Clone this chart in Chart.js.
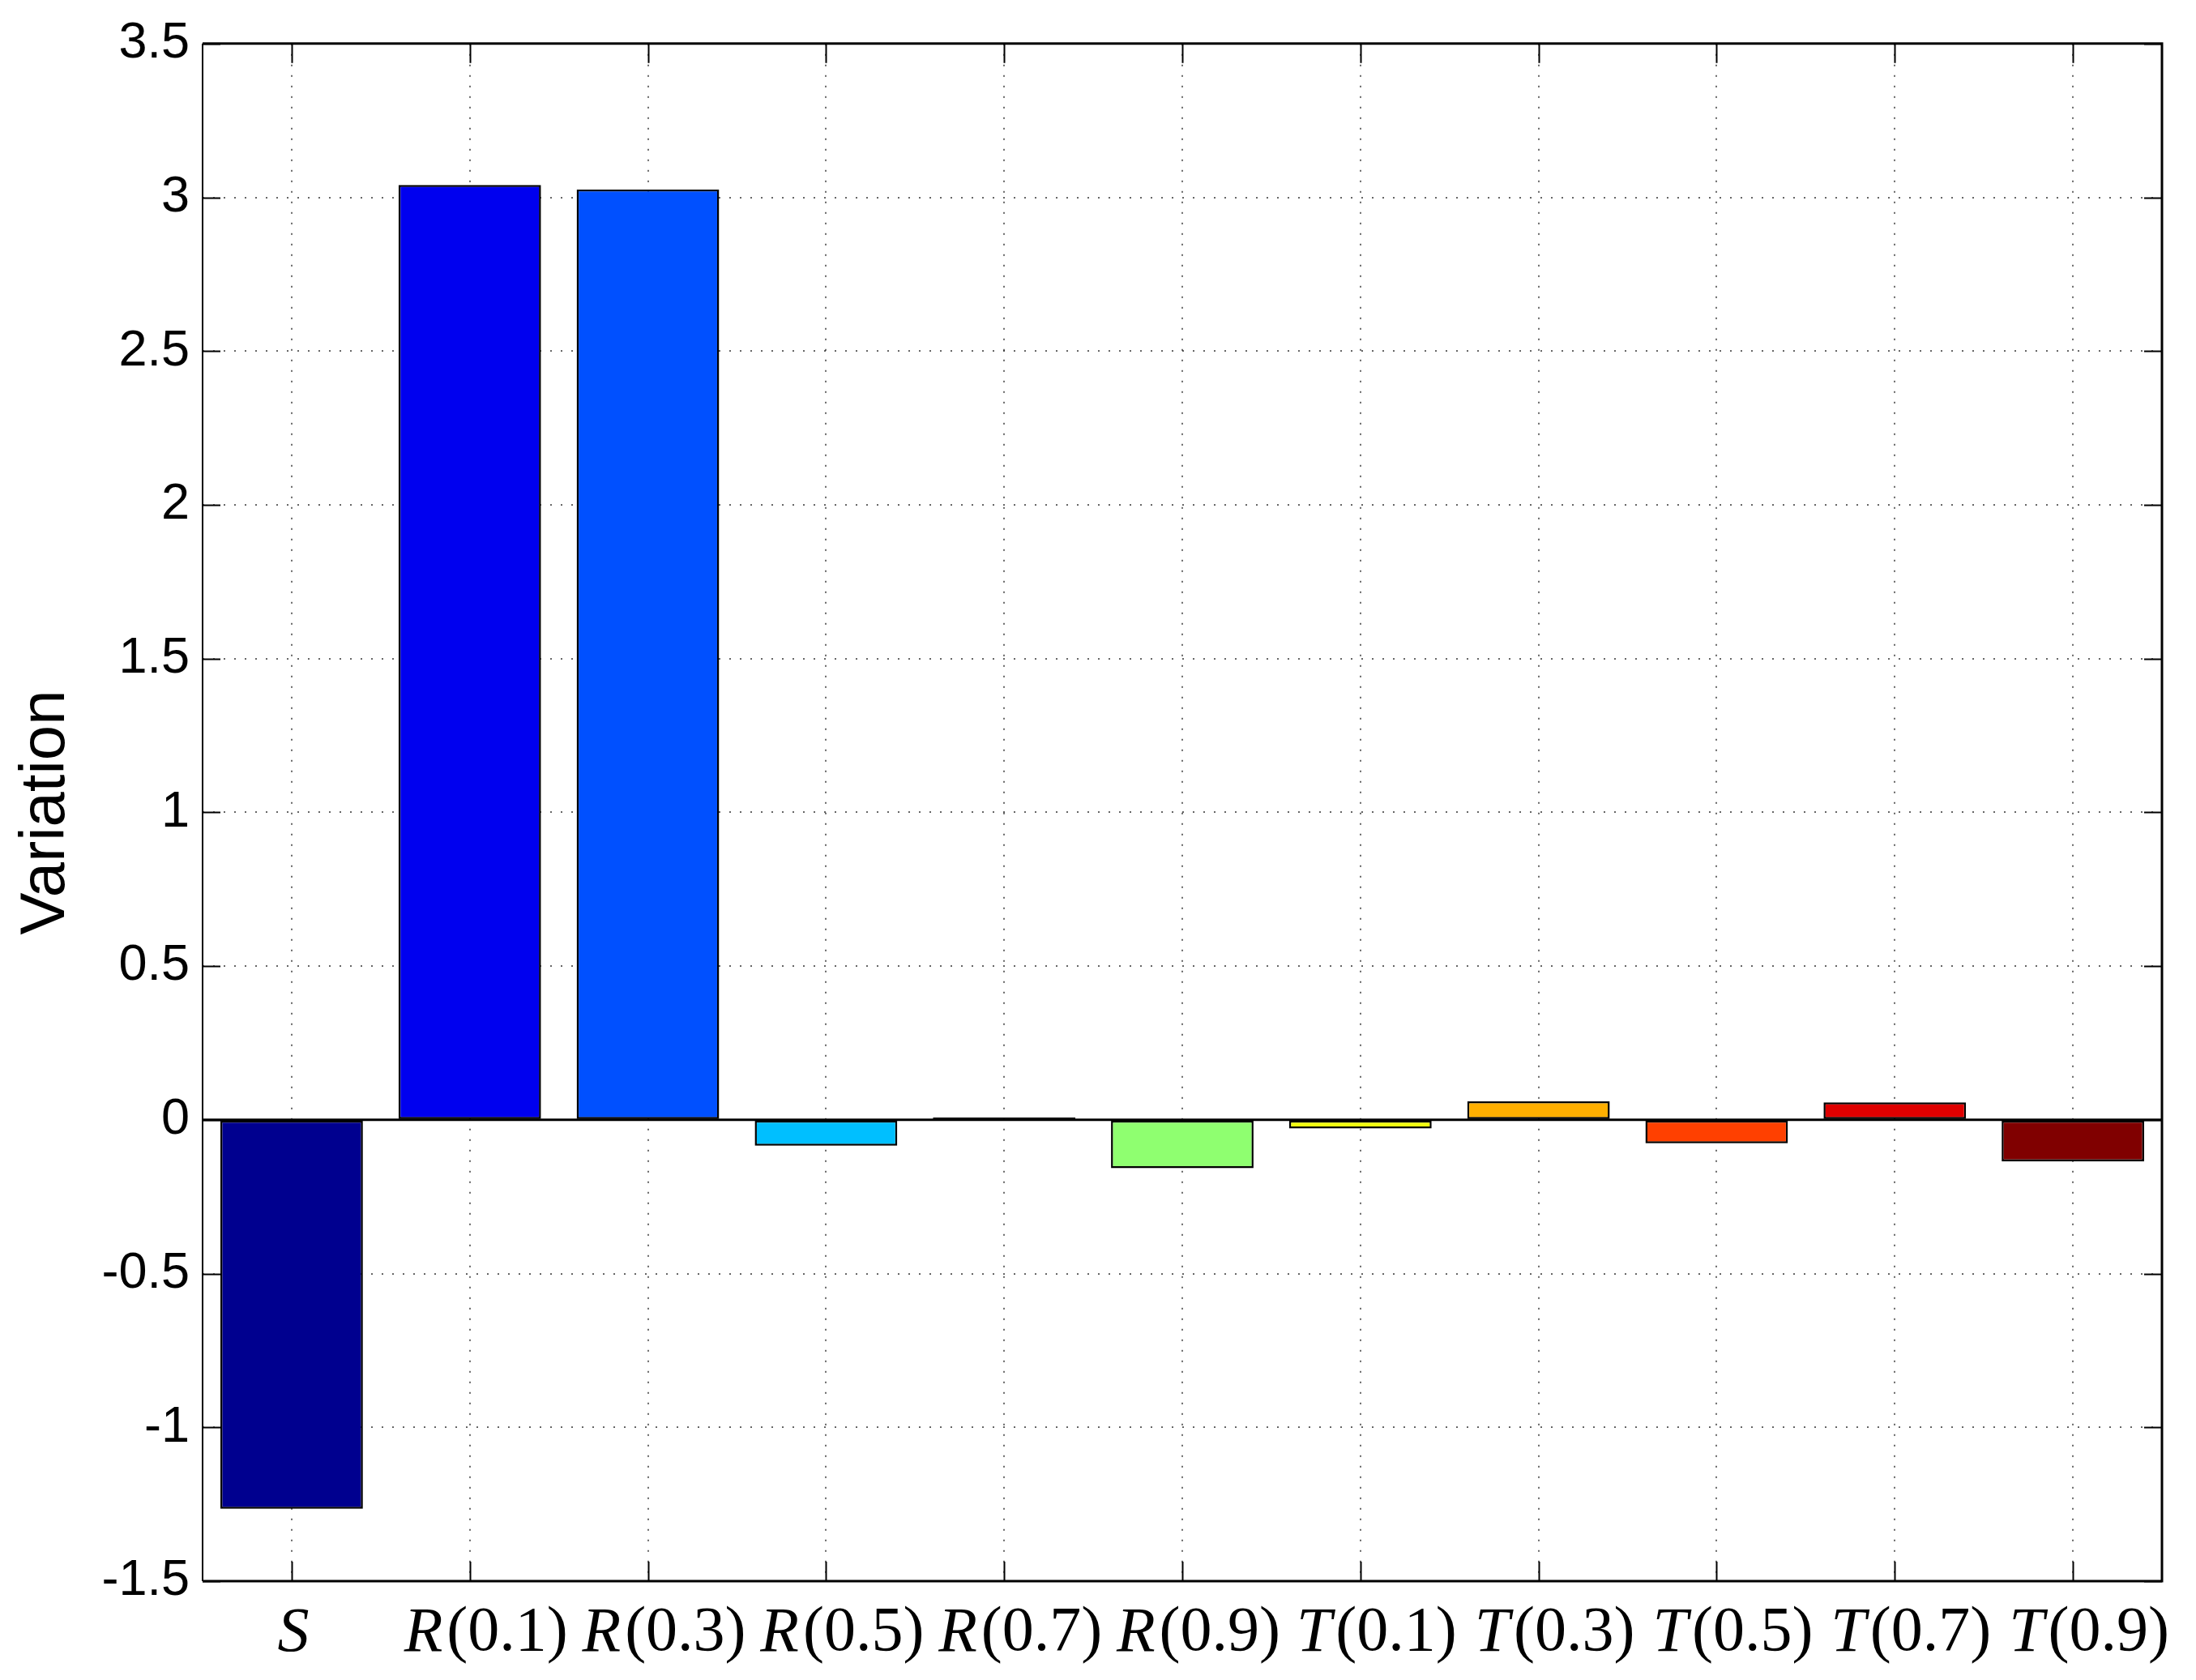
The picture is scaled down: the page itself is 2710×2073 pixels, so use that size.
<!DOCTYPE html>
<html>
<head>
<meta charset="utf-8">
<script src="https://cdn.jsdelivr.net/npm/chart.js@4"></script>
<style>
  html, body { margin: 0; padding: 0; background: #fff; }
  #wrap { width: 2710px; height: 2073px; }
</style>
</head>
<body>
<div id="wrap"><canvas id="chart"></canvas></div>
<script>
var categories = ['S', 'R(0.1)', 'R(0.3)', 'R(0.5)', 'R(0.7)', 'R(0.9)',
                  'T(0.1)', 'T(0.3)', 'T(0.5)', 'T(0.7)', 'T(0.9)'];
var variation = [-1.265, 3.040, 3.026, -0.084, 0.008, -0.157,
                 -0.028, 0.060, -0.076, 0.057, -0.135];
var barColors = ['#00008f', '#0000ef', '#0050ff', '#00bfff', '#20ffdf', '#8fff70',
                 '#efff10', '#ffaf00', '#ff4000', '#df0000', '#800000'];
var yMin = -1.5, yMax = 3.5, yStep = 0.5;

// box, inner tick marks, zero baseline and the math-style x labels
var framePlugin = {
  id: 'frame',
  afterDraw: function(chart) {
    var c = chart.ctx, a = chart.chartArea;
    var xs = chart.scales.x, ys = chart.scales.y;
    c.save();
    c.strokeStyle = '#000';
    c.setLineDash([]);

    // tick marks pointing inward
    c.lineWidth = 2;
    c.beginPath();
    ys.ticks.forEach(function(t) {
      var y = Math.round(ys.getPixelForValue(t.value)) + 0.5;
      c.moveTo(a.left, y); c.lineTo(a.left + 22, y);
      c.moveTo(a.right, y); c.lineTo(a.right - 22, y);
    });
    categories.forEach(function(_, i) {
      var x = Math.round(xs.getPixelForValue(i)) + 0.5;
      c.moveTo(x, a.bottom); c.lineTo(x, a.bottom - 24);
      c.moveTo(x, a.top); c.lineTo(x, a.top + 24);
    });
    c.stroke();

    // zero line
    var y0 = ys.getPixelForValue(0);
    c.lineWidth = 3;
    c.beginPath();
    c.moveTo(a.left, y0); c.lineTo(a.right, y0);
    c.stroke();

    // box
    c.lineWidth = 3;
    c.beginPath();
    c.moveTo(a.left, a.top); c.lineTo(a.right, a.top);
    c.lineTo(a.right, a.bottom); c.lineTo(a.left, a.bottom);
    c.stroke();
    c.lineWidth = 2;
    c.beginPath();
    c.moveTo(a.left, a.top); c.lineTo(a.left, a.bottom);
    c.stroke();

    // x labels: italic letter, upright argument
    var italic = 'italic 78px "Liberation Serif", "DejaVu Serif", serif';
    var upright = '78px "Liberation Serif", "DejaVu Serif", serif';
    c.fillStyle = '#000';
    c.textBaseline = 'middle';
    c.textAlign = 'left';
    categories.forEach(function(lbl, i) {
      var head = lbl.charAt(0), rest = lbl.slice(1);
      c.font = italic;
      var w1 = c.measureText(head).width + (rest ? 5 : 0);
      c.font = upright;
      var w2 = c.measureText(rest).width;
      var shift = rest ? 20 : 2;
      var x = xs.getPixelForValue(i) - (w1 + w2) / 2 + shift;
      var y = 2016;
      c.font = italic;
      c.fillText(head, x, y);
      c.font = upright;
      c.fillText(rest, x + w1, y);
    });
    c.restore();
  }
};

var ctx = document.getElementById('chart').getContext('2d');
var chart = new Chart(ctx, {
  type: 'bar',
  data: {
    labels: categories,
    datasets: [{
      data: variation,
      backgroundColor: barColors,
      borderColor: '#000',
      borderWidth: 2.5,
      borderSkipped: false,
      barPercentage: 0.8,
      categoryPercentage: 1.0
    }]
  },
  options: {
    responsive: true,
    maintainAspectRatio: false,
    devicePixelRatio: 1,
    animation: false,
    layout: { padding: { left: 0, top: 42, right: 42, bottom: 0 } },
    plugins: {
      legend: { display: false },
      tooltip: { enabled: false }
    },
    scales: {
      x: {
        offset: true,
        grid: { offset: false, color: 'rgba(0,0,0,0.6)', lineWidth: 2, drawTicks: false },
        border: { display: false, dash: [2, 11] },
        ticks: { display: false },
        afterFit: function(s) { s.height = 122; }
      },
      y: {
        min: yMin,
        max: yMax,
        grid: { color: 'rgba(0,0,0,0.6)', lineWidth: 2, drawTicks: false },
        border: { display: false, dash: [2, 11] },
        ticks: {
          stepSize: yStep,
          padding: 16,
          color: '#000',
          font: { family: '"Liberation Sans", Arial, sans-serif', size: 63 },
          callback: function(v) { return String(+v.toFixed(1)); }
        },
        title: {
          display: true,
          text: 'Variation',
          color: '#000',
          font: { family: '"Liberation Sans", Arial, sans-serif', size: 78 },
          padding: { top: 11, bottom: 0 }
        },
        afterFit: function(s) { s.width = 250; }
      }
    }
  },
  plugins: [framePlugin]
});
</script>
</body>
</html>
